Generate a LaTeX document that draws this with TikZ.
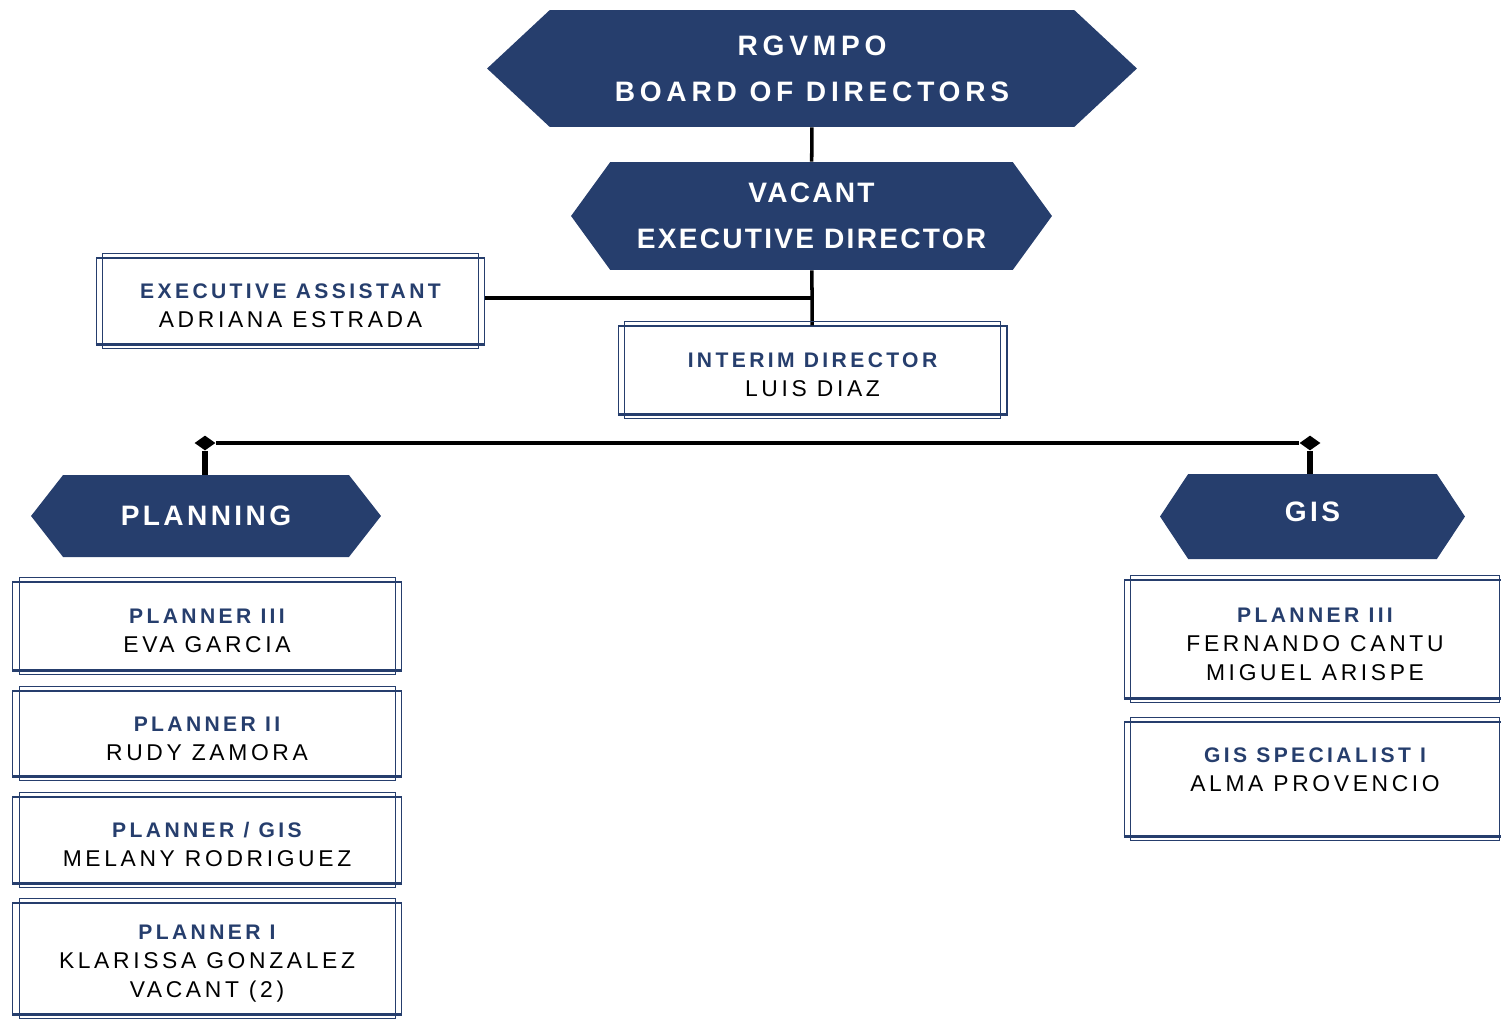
\documentclass[tikz,border=0pt]{standalone}
\usepackage{fontspec}
\setmainfont{Liberation Sans}
\usetikzlibrary{positioning, calc, shapes.symbols, shapes.geometric}

\definecolor{mponavy}{HTML}{263E6D}

% title line of a staff box (the rule keeps the text low in the frame)
\newcommand{\jobtitle}[1]{\rule{0pt}{14pt}{\fontsize{12}{16.4}\selectfont\bfseries\color{mponavy}#1}}

\begin{document}
\begin{tikzpicture}[
  x=0.02cm, y=-0.02cm,
  % navy banners with pointed ends
  banner/.style={
    signal, signal to=east and west,
    fill=mponavy, draw=none,
    text=white,
    font=\fontsize{16}{26}\selectfont\bfseries\addfontfeatures{LetterSpace=17},
    align=center, inner sep=0pt
  },
  % framed staff boxes
  staffbox/.style={
    draw=mponavy, line width=0.6pt,
    minimum width=7.78cm,
    align=center, inner sep=0pt,
    font=\fontsize{13}{16.4}\selectfont\addfontfeatures{LetterSpace=16}
  },
  link/.style={draw=black, line width=2pt},
  joint/.style={diamond, fill=black, inner sep=0pt,
    minimum width=0.42cm, minimum height=0.3cm}
]
  \useasboundingbox (0,0) rectangle (1501,1018);
  \clip (0,0) rectangle (1501,1018);

  % top of the chart
  \node (board) [banner, minimum width=13cm, minimum height=2.34cm,
    signal pointer angle=86] at (812,68.5) {RGVMPO\\BOARD OF DIRECTORS};
  \node (exec) [banner, minimum width=9.62cm, minimum height=2.16cm,
    signal pointer angle=108, font=\fontsize{16}{26}\selectfont\bfseries\addfontfeatures{LetterSpace=8}]
    at (811.5,216) {VACANT\\EXECUTIVE DIRECTOR};

  \node (ea) [staffbox, minimum height=1.72cm] at (290.5,301)
    {\jobtitle{EXECUTIVE ASSISTANT}\\ADRIANA ESTRADA};
  \node (interim) [staffbox, minimum height=1.76cm] at (812.5,370)
    {\jobtitle{INTERIM DIRECTOR}\\LUIS DIAZ};

  \draw [link] (board) -- (exec);
  \draw [link] (exec) -- (interim);
  \draw [link] ([yshift=0.06cm]ea.east) -- ([yshift=0.06cm]ea.east -| exec.south);

  % divisions
  \node (jl) [joint] at (205,443) {};
  \node (jr) [joint] at (1310,443) {};
  \draw [link] (jl) -- (jr);

  \node (planning) [banner, minimum width=7cm, minimum height=1.64cm,
    signal pointer angle=104, font=\fontsize{16}{26}\selectfont\bfseries\addfontfeatures{LetterSpace=12}]
    at (206,516) {PLANNING};
  \node (gis) [banner, minimum width=6.1cm, minimum height=1.7cm,
    signal pointer angle=113, font=\fontsize{16}{26}\selectfont\bfseries\addfontfeatures{LetterSpace=12}]
    at (1312.5,516.5) {GIS\rule[-5pt]{0pt}{0pt}};

  \draw [link, line width=3pt] (jl) -- (jl |- planning.north);
  \draw [link, line width=3pt] (jr) -- (jr |- gis.north);

  % planning staff
  \node (p3) [staffbox, minimum height=1.76cm] at (207,626)
    {\jobtitle{PLANNER III}\\EVA GARCIA};
  \node (p2) [staffbox, minimum height=1.7cm] at (207,733.5)
    {\jobtitle{PLANNER II}\\RUDY ZAMORA};
  \node (pg) [staffbox, minimum height=1.72cm] at (207,840)
    {\jobtitle{PLANNER / GIS}\\MELANY RODRIGUEZ};
  \node (p1) [staffbox, minimum height=2.22cm] at (207,958.5)
    {\jobtitle{PLANNER I}\\KLARISSA GONZALEZ\\VACANT (2)};

  % gis staff
  \node (g3) [staffbox, minimum width=7.64cm, minimum height=2.36cm] at (1315,639)
    {\jobtitle{PLANNER III}\\FERNANDO CANTU\\MIGUEL ARISPE};
  \node (gs) [staffbox, minimum width=7.64cm, minimum height=2.28cm] at (1315,779)
    {\jobtitle{GIS SPECIALIST I}\\ALMA PROVENCIO\\\mbox{}};

  % second frame round every staff box
  \foreach \n in {ea, interim, p3, p2, pg, p1, g3, gs} {
    \draw [mponavy, line width=0.5pt]
      ($(\n.north west)+(7,-4)$) rectangle ($(\n.south east)+(-7,4)$);
    \draw [mponavy, line width=1.2pt] (\n.south west) -- (\n.south east);
  }

\end{tikzpicture}
\end{document}
